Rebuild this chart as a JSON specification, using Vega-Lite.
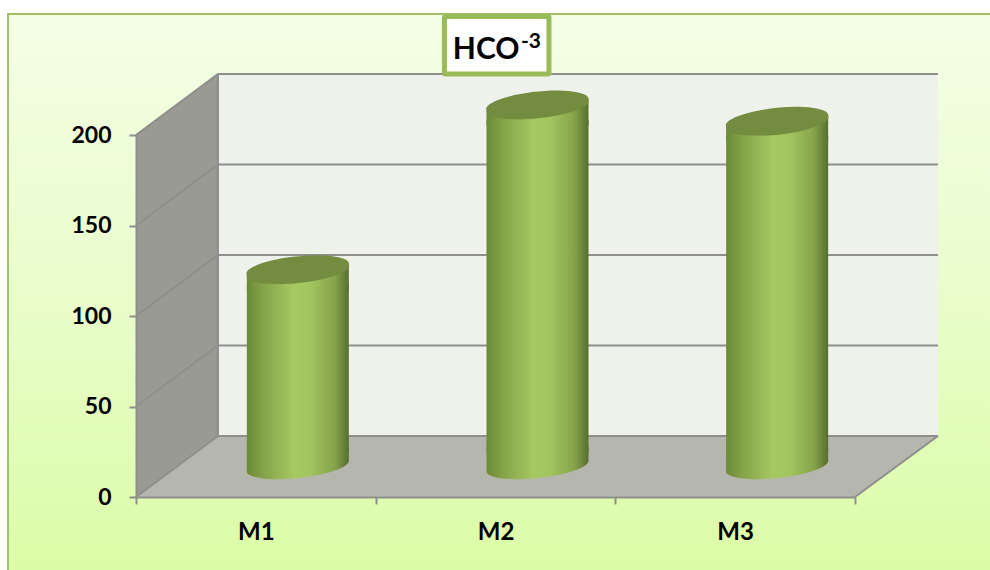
{
  "$schema": "https://vega.github.io/schema/vega-lite/v6.json",
  "width": 990,
  "height": 570,
  "padding": 0,
  "autosize": {"type": "none"},
  "background": "#ffffff",
  "config": {"view": {"stroke": null}, "font": "Lato"},
  "datasets": {
    "panel": [{"x": -0.534, "x2": 3.6, "y": 266.9, "y2": -44}],
    "backWall": [{"x": 0.342, "x2": 3.346, "y": 33.7, "y2": 233.7}],
    "sideWall": [
      {"x": 0, "y": 200, "y2": 0},
      {"x": 0.342, "y": 233.7, "y2": 33.7}
    ],
    "floor": [
      {"x": 0, "y": 0, "y2": 0},
      {"x": 0.342, "y": 33.7, "y2": 0},
      {"x": 3, "y": 33.7, "y2": 0},
      {"x": 3.346, "y": 33.7, "y2": 33.7}
    ],
    "gridLines": [
      {"level": "50", "x": 0, "y": 50}, {"level": "50", "x": 0.342, "y": 83.7}, {"level": "50", "x": 3.346, "y": 83.7},
      {"level": "100", "x": 0, "y": 100}, {"level": "100", "x": 0.342, "y": 133.7}, {"level": "100", "x": 3.346, "y": 133.7},
      {"level": "150", "x": 0, "y": 150}, {"level": "150", "x": 0.342, "y": 183.7}, {"level": "150", "x": 3.346, "y": 183.7},
      {"level": "200", "x": 0, "y": 200}, {"level": "200", "x": 0.342, "y": 233.7}, {"level": "200", "x": 3.346, "y": 233.7},
      {"level": "floor", "x": 0, "y": 0}, {"level": "floor", "x": 0.342, "y": 33.7}, {"level": "floor", "x": 3.346, "y": 33.7},
      {"level": "edge", "x": 3, "y": 0}, {"level": "edge", "x": 3.346, "y": 33.7},
      {"level": "corner", "x": 0.342, "y": 33.7}, {"level": "corner", "x": 0.342, "y": 233.7}
    ],
    "titleBox": [{"x": 1.287, "x2": 1.723, "y": 265.5, "y2": 233.7}],
    "bars": [
      {"group": "M1", "value": 109},
      {"group": "M2", "value": 200},
      {"group": "M3", "value": 191}
    ]
  },
  "layer": [
    {
      "encoding": {
        "x": {"field": "x", "type": "quantitative", "axis": null, "scale": {"domain": [0, 3], "range": [136, 855], "nice": false, "zero": false}},
        "y": {
          "field": "y",
          "type": "quantitative",
          "title": null,
          "scale": {"domain": [0, 200], "range": [497, 135], "nice": false, "zero": false},
          "axis": {
            "offset": -136,
            "zindex": 1,
            "grid": false,
            "values": [0, 50, 100, 150, 200],
            "tickSize": 7,
            "tickWidth": 2,
            "tickColor": "#8e8f8c",
            "domainColor": "#8e8f8c",
            "domainWidth": 2,
            "labelFont": "Lato",
            "labelFontWeight": "bold",
            "labelFontSize": 23,
            "labelColor": "#000000",
            "labelPadding": 18
          }
        }
      },
      "layer": [
        {
          "data": {"name": "panel"},
          "mark": {
            "type": "rect",
            "stroke": "#a2c164",
            "strokeWidth": 2,
            "fill": {"gradient": "linear", "x1": 0, "y1": 0, "x2": 0, "y2": 1, "stops": [
              {"offset": 0, "color": "#f4fee6"},
              {"offset": 0.5, "color": "#e9fdcb"},
              {"offset": 1, "color": "#dbfca6"}
            ]}
          },
          "encoding": {"x2": {"field": "x2"}, "y2": {"field": "y2"}}
        },
        {
          "data": {"name": "backWall"},
          "mark": {"type": "rect", "fill": "#eff1eb"},
          "encoding": {"x2": {"field": "x2"}, "y2": {"field": "y2"}}
        },
        {
          "data": {"name": "sideWall"},
          "mark": {"type": "area", "fill": "#999b93"},
          "encoding": {"y2": {"field": "y2"}}
        },
        {
          "data": {"name": "floor"},
          "mark": {"type": "area", "fill": "#b5b7af"},
          "encoding": {"y2": {"field": "y2"}}
        },
        {
          "data": {"name": "gridLines"},
          "mark": {"type": "line", "stroke": "#8e8f8c", "strokeWidth": 2},
          "encoding": {"detail": {"field": "level"}}
        },
        {
          "data": {"name": "titleBox"},
          "mark": {"type": "rect", "fill": "#ffffff", "stroke": "#9bbb59", "strokeWidth": 5, "cornerRadius": 1},
          "encoding": {"x2": {"field": "x2"}, "y2": {"field": "y2"}}
        },
        {
          "data": {"values": [{"label": "HCO", "x": 1.322, "y": 242}]},
          "mark": {"type": "text", "align": "left", "baseline": "alphabetic", "fontSize": 30, "fontWeight": "bold", "font": "Lato", "color": "#000000"},
          "encoding": {"text": {"field": "label"}}
        },
        {
          "data": {"values": [{"label": "-3", "x": 1.606, "y": 248}]},
          "mark": {"type": "text", "align": "left", "baseline": "alphabetic", "fontSize": 21, "fontWeight": "bold", "font": "Lato", "color": "#000000"},
          "encoding": {"text": {"field": "label"}}
        }
      ]
    },
    {
      "data": {"name": "bars"},
      "encoding": {
        "x": {
          "field": "group",
          "type": "nominal",
          "scale": {"type": "band", "domain": ["M1", "M2", "M3"], "range": [136, 855], "paddingInner": 0, "paddingOuter": 0},
          "axis": {
            "title": null,
            "orient": "bottom",
            "offset": -73,
            "zindex": 1,
            "tickBand": "extent",
            "tickSize": 7,
            "tickWidth": 2,
            "tickColor": "#8e8f8c",
            "domainColor": "#8e8f8c",
            "domainWidth": 2,
            "labelAngle": 0,
            "labelFont": "Lato",
            "labelFontWeight": "bold",
            "labelFontSize": 24,
            "labelColor": "#000000",
            "labelPadding": 16
          }
        }
      },
      "layer": [
        {
          "mark": {
            "type": "bar",
            "width": 102,
            "xOffset": 42,
            "yOffset": -15,
            "y2Offset": -45,
            "fill": {"gradient": "linear", "x1": 0, "y1": 0, "x2": 1, "y2": 0, "stops": [
              {"offset": 0, "color": "#6c8938"},
              {"offset": 0.14, "color": "#82a046"},
              {"offset": 0.46, "color": "#a6c962"},
              {"offset": 0.62, "color": "#a3c55f"},
              {"offset": 0.86, "color": "#86a34a"},
              {"offset": 1, "color": "#55702d"}
            ]}
          },
          "encoding": {
            "y": {
              "field": "value",
              "type": "quantitative",
              "title": null,
              "scale": {"domain": [0, 200], "range": [497, 135], "nice": false, "zero": false}
            },
            "y2": {"datum": 0}
          }
        },
        {
          "mark": {
            "type": "point",
            "filled": true,
            "opacity": 1,
            "size": 10404,
            "xOffset": 42,
            "yOffset": -30,
            "shape": "M-1,-0.4 L-1,0.106 A1.01,0.24,-6,0,0,1,-0.106 L1,-0.4 Z",
            "fill": {"gradient": "linear", "x1": 0, "y1": 0, "x2": 1, "y2": 0, "stops": [
              {"offset": 0, "color": "#6c8938"},
              {"offset": 0.14, "color": "#82a046"},
              {"offset": 0.46, "color": "#a6c962"},
              {"offset": 0.62, "color": "#a3c55f"},
              {"offset": 0.86, "color": "#86a34a"},
              {"offset": 1, "color": "#55702d"}
            ]}
          },
          "encoding": {
            "y": {"datum": 0, "type": "quantitative", "title": null, "scale": {"domain": [0, 200], "range": [497, 135], "nice": false, "zero": false}}
          }
        },
        {
          "mark": {
            "type": "point",
            "filled": true,
            "opacity": 1,
            "size": 10404,
            "xOffset": 42,
            "yOffset": -30,
            "shape": "M-1,0.106 A1.01,0.24,-6,0,0,1,-0.106 L1,0.4 L-1,0.4 Z",
            "fill": {"gradient": "linear", "x1": 0, "y1": 0, "x2": 1, "y2": 0, "stops": [
              {"offset": 0, "color": "#6c8938"},
              {"offset": 0.14, "color": "#82a046"},
              {"offset": 0.46, "color": "#a6c962"},
              {"offset": 0.62, "color": "#a3c55f"},
              {"offset": 0.86, "color": "#86a34a"},
              {"offset": 1, "color": "#55702d"}
            ]}
          },
          "encoding": {
            "y": {"field": "value", "type": "quantitative", "title": null, "scale": {"domain": [0, 200], "range": [497, 135], "nice": false, "zero": false}}
          }
        },
        {
          "mark": {
            "type": "point",
            "filled": true,
            "opacity": 1,
            "size": 10404,
            "xOffset": 42,
            "yOffset": -30,
            "fill": "#748c40",
            "shape": "M-1,0.106 A1.01,0.24,-6,1,1,1,-0.106 A1.01,0.24,-6,1,1,-1,0.106 Z"
          },
          "encoding": {
            "y": {"field": "value", "type": "quantitative", "title": null, "scale": {"domain": [0, 200], "range": [497, 135], "nice": false, "zero": false}}
          }
        }
      ]
    }
  ],
  "resolve": {"scale": {"x": "independent"}}
}
